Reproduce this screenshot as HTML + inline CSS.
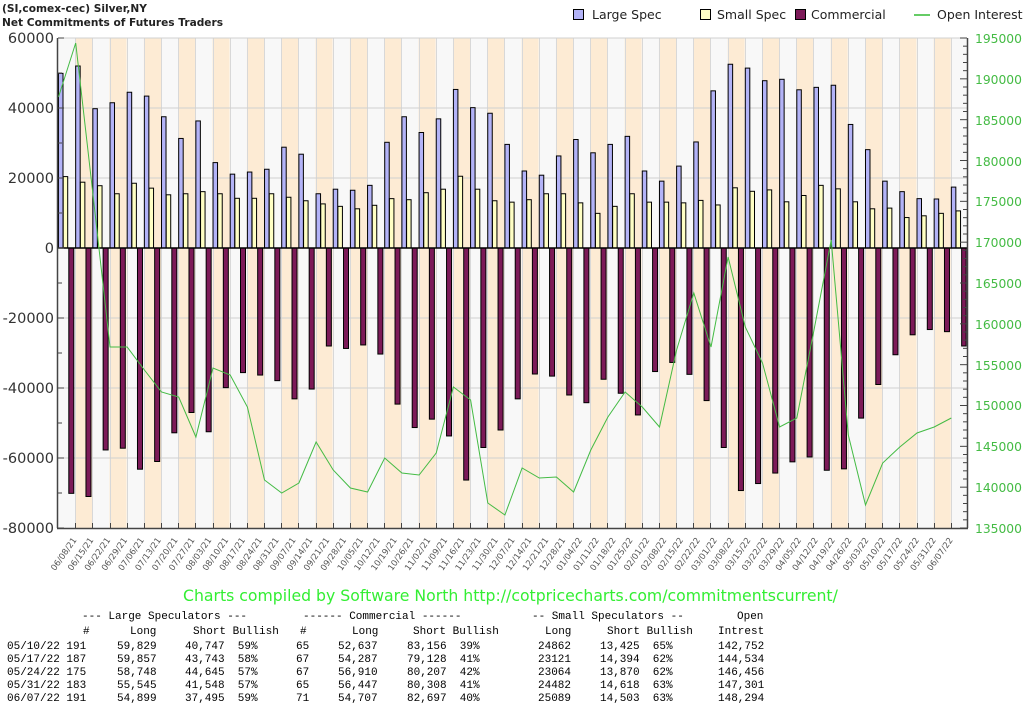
<!DOCTYPE html>
<html><head><meta charset="utf-8"><style>
body{margin:0;background:#fff;width:1024px;height:714px;overflow:hidden;position:relative;font-family:"DejaVu Sans","Liberation Sans",sans-serif}
svg{position:absolute;left:0;top:0}
.t{position:absolute;font-family:"Liberation Mono","DejaVu Sans Mono",monospace;font-size:11px;white-space:pre;color:#000;line-height:13px}
</style></head><body>
<svg width="1024" height="714" xmlns="http://www.w3.org/2000/svg">
<g id="plot"></g>
<text x="2" y="12" font-family="DejaVu Sans, sans-serif" font-weight="bold" font-size="10.6" fill="#222">(SI,comex-cec) Silver,NY</text>
<text x="2" y="26" font-family="DejaVu Sans, sans-serif" font-weight="bold" font-size="10.6" fill="#222">Net Commitments of Futures Traders</text>
<g font-family="DejaVu Sans, sans-serif" font-size="12.5" fill="#222">
<rect x="573.5" y="9.5" width="10" height="10" fill="#b3b3f7" stroke="#000"/><text x="592" y="19">Large Spec</text>
<rect x="700.5" y="9.5" width="10" height="10" fill="#ffffc4" stroke="#000"/><text x="717" y="19">Small Spec</text>
<rect x="795.5" y="9.5" width="10" height="10" fill="#7c1a58" stroke="#000"/><text x="811" y="19">Commercial</text>
<line x1="914" y1="15" x2="930" y2="15" stroke="#33bb33" stroke-width="1.5"/><text x="937" y="19">Open Interest</text>
</g>
<g font-family="DejaVu Sans, sans-serif" font-size="14.5" fill="#333" text-anchor="end">
<text x="54" y="43">60000</text><text x="54" y="113">40000</text><text x="54" y="183">20000</text><text x="54" y="253">0</text>
<text x="54" y="323">-20000</text><text x="54" y="393">-40000</text><text x="54" y="463">-60000</text><text x="54" y="533">-80000</text>
</g>
<g font-family="DejaVu Sans, sans-serif" font-size="12.3" fill="#44bb44">
<text x="975" y="43">195000</text><text x="975" y="84">190000</text><text x="975" y="125">185000</text><text x="975" y="166">180000</text>
<text x="975" y="206">175000</text><text x="975" y="247">170000</text><text x="975" y="288">165000</text><text x="975" y="329">160000</text>
<text x="975" y="370">155000</text><text x="975" y="410">150000</text><text x="975" y="451">145000</text><text x="975" y="492">140000</text><text x="975" y="533">135000</text>
</g>
<g font-family="DejaVu Sans, sans-serif" font-size="8.5" fill="#555" text-anchor="end">
<text transform="translate(77.0,540) rotate(-55)">06/08/21</text>
<text transform="translate(93.9,540) rotate(-55)">06/15/21</text>
<text transform="translate(110.7,540) rotate(-55)">06/22/21</text>
<text transform="translate(127.6,540) rotate(-55)">06/29/21</text>
<text transform="translate(144.4,540) rotate(-55)">07/06/21</text>
<text transform="translate(161.3,540) rotate(-55)">07/13/21</text>
<text transform="translate(178.1,540) rotate(-55)">07/20/21</text>
<text transform="translate(195.0,540) rotate(-55)">07/27/21</text>
<text transform="translate(211.8,540) rotate(-55)">08/03/21</text>
<text transform="translate(228.7,540) rotate(-55)">08/10/21</text>
<text transform="translate(245.5,540) rotate(-55)">08/17/21</text>
<text transform="translate(262.4,540) rotate(-55)">08/24/21</text>
<text transform="translate(279.2,540) rotate(-55)">08/31/21</text>
<text transform="translate(296.1,540) rotate(-55)">09/07/21</text>
<text transform="translate(312.9,540) rotate(-55)">09/14/21</text>
<text transform="translate(329.8,540) rotate(-55)">09/21/21</text>
<text transform="translate(346.6,540) rotate(-55)">09/28/21</text>
<text transform="translate(363.5,540) rotate(-55)">10/05/21</text>
<text transform="translate(380.3,540) rotate(-55)">10/12/21</text>
<text transform="translate(397.2,540) rotate(-55)">10/19/21</text>
<text transform="translate(414.0,540) rotate(-55)">10/26/21</text>
<text transform="translate(430.9,540) rotate(-55)">11/02/21</text>
<text transform="translate(447.7,540) rotate(-55)">11/09/21</text>
<text transform="translate(464.6,540) rotate(-55)">11/16/21</text>
<text transform="translate(481.4,540) rotate(-55)">11/23/21</text>
<text transform="translate(498.3,540) rotate(-55)">11/30/21</text>
<text transform="translate(515.1,540) rotate(-55)">12/07/21</text>
<text transform="translate(532.0,540) rotate(-55)">12/14/21</text>
<text transform="translate(548.8,540) rotate(-55)">12/21/21</text>
<text transform="translate(565.7,540) rotate(-55)">12/28/21</text>
<text transform="translate(582.5,540) rotate(-55)">01/04/22</text>
<text transform="translate(599.4,540) rotate(-55)">01/11/22</text>
<text transform="translate(616.2,540) rotate(-55)">01/18/22</text>
<text transform="translate(633.1,540) rotate(-55)">01/25/22</text>
<text transform="translate(649.9,540) rotate(-55)">02/01/22</text>
<text transform="translate(666.8,540) rotate(-55)">02/08/22</text>
<text transform="translate(683.6,540) rotate(-55)">02/15/22</text>
<text transform="translate(700.5,540) rotate(-55)">02/22/22</text>
<text transform="translate(717.3,540) rotate(-55)">03/01/22</text>
<text transform="translate(734.2,540) rotate(-55)">03/08/22</text>
<text transform="translate(751.0,540) rotate(-55)">03/15/22</text>
<text transform="translate(767.9,540) rotate(-55)">03/22/22</text>
<text transform="translate(784.7,540) rotate(-55)">03/29/22</text>
<text transform="translate(801.6,540) rotate(-55)">04/05/22</text>
<text transform="translate(818.4,540) rotate(-55)">04/12/22</text>
<text transform="translate(835.3,540) rotate(-55)">04/19/22</text>
<text transform="translate(852.1,540) rotate(-55)">04/26/22</text>
<text transform="translate(869.0,540) rotate(-55)">05/03/22</text>
<text transform="translate(885.8,540) rotate(-55)">05/10/22</text>
<text transform="translate(902.7,540) rotate(-55)">05/17/22</text>
<text transform="translate(919.5,540) rotate(-55)">05/24/22</text>
<text transform="translate(936.4,540) rotate(-55)">05/31/22</text>
<text transform="translate(953.2,540) rotate(-55)">06/07/22</text>
</g>
<text x="183" y="601" font-family="DejaVu Sans, sans-serif" font-size="15.7" fill="#33ee33">Charts compiled by Software North  http://cotpricecharts.com/commitmentscurrent/</text>
</svg>

<div class="t" style="left:82px;top:611px">--- Large Speculators ---</div>
<div class="t" style="left:303px;top:611px">------ Commercial ------</div>
<div class="t" style="left:532px;top:611px">-- Small Speculators --</div>
<div class="t" style="left:737px;top:611px">Open</div>

<div class="t" style="left:83px;top:626px">#</div>
<div class="t" style="left:130px;top:626px">Long</div>
<div class="t" style="left:193px;top:626px">Short Bullish</div>
<div class="t" style="left:300px;top:626px">#</div>
<div class="t" style="left:352px;top:626px">Long</div>
<div class="t" style="left:413px;top:626px">Short Bullish</div>
<div class="t" style="left:545px;top:626px">Long</div>
<div class="t" style="left:607px;top:626px">Short Bullish</div>
<div class="t" style="left:718px;top:626px">Intrest</div>

<div class="t" style="left:7px;top:641px">05/10/22 191
05/17/22 187
05/24/22 175
05/31/22 183
06/07/22 191</div>
<div class="t" style="left:117px;top:641px">59,829
59,857
58,748
55,545
54,899</div>
<div class="t" style="left:185px;top:641px">40,747  59%
43,743  58%
44,645  57%
41,548  57%
37,495  59%</div>
<div class="t" style="left:296px;top:641px">65
67
67
65
71</div>
<div class="t" style="left:338px;top:641px">52,637
54,287
56,910
56,447
54,707</div>
<div class="t" style="left:407px;top:641px">83,156  39%
79,128  41%
80,207  42%
80,308  41%
82,697  40%</div>
<div class="t" style="left:538px;top:641px">24862
23121
23064
24482
25089</div>
<div class="t" style="left:600px;top:641px">13,425  65%
14,394  62%
13,870  62%
14,618  63%
14,503  63%</div>
<div class="t" style="left:718px;top:641px">142,752
144,534
146,456
147,301
148,294</div>

<script>
(function(){
var L=[49.9,52,39.8,41.5,44.5,43.4,37.5,31.3,36.3,24.4,21.1,21.7,22.5,28.8,26.8,15.5,16.8,16.5,17.9,30.2,37.5,33,36.9,45.3,40.1,38.5,29.6,22,20.8,26.3,31,27.2,29.6,31.9,22,19.1,23.4,30.3,44.9,52.5,51.4,47.8,48.2,45.2,45.9,46.5,35.3,28.1,19.1,16.1,14.1,14.0,17.4];
var S=[20.4,18.8,17.8,15.5,18.5,17.1,15.2,15.5,16.1,15.5,14.2,14.2,15.5,14.5,13.5,12.6,11.9,11.2,12.2,14.1,13.8,15.8,16.8,20.5,16.8,13.5,13.1,13.8,15.5,15.5,12.9,9.9,11.9,15.5,13.1,13.1,12.9,13.6,12.3,17.2,16.2,16.6,13.2,15,17.9,16.9,13.2,11.2,11.4,8.7,9.2,9.9,10.6];
var C=[-70.1,-71,-57.7,-57.2,-63.2,-61,-52.8,-47,-52.5,-39.9,-35.6,-36.3,-37.9,-43.1,-40.3,-28,-28.7,-27.7,-30.3,-44.6,-51.3,-48.9,-53.7,-66.3,-57,-52,-43.1,-36,-36.6,-42,-44.2,-37.5,-41.5,-47.7,-35.3,-32.7,-36.1,-43.6,-57,-69.3,-67.3,-64.3,-61.1,-59.7,-63.5,-63.1,-48.6,-39,-30.5,-24.8,-23.3,-23.9,-28];
var OY=[97,43,193,347,347,370,392,397,437,368,375,407,480,493,483,442,470,488,492,458,473,475,453,387,400,503,515,468,478,477,492,450,417,392,407,427,350,293,347,257,327,363,427,418,330,240,435,505,463,447,433,427,418];
var x0=58,w=17.17,top=38,bot=528,n=53,z=248,k=3.5;
var s='';
for(var i=0;i<n;i++){var x=x0+w*i;s+='<rect x="'+x+'" y="'+top+'" width="'+w+'" height="'+(bot-top)+'" fill="'+(i%2?'#fdebd4':'#f8f8f8')+'"/>';}
for(var i=1;i<n;i++){var x=Math.round(x0+w*i)+0.5;s+='<line x1="'+x+'" y1="'+top+'" x2="'+x+'" y2="'+bot+'" stroke="#d8d8d8"/>';}
for(var v=-60;v<=60;v+=20){var y=z-v*k;s+='<line x1="58" y1="'+y+'" x2="967" y2="'+y+'" stroke="#d0d0d0"/>';}
function r(x,a,b,f){var y1=Math.min(a,b),h=Math.abs(a-b);s+='<rect x="'+x+'" y="'+y1+'" width="4.5" height="'+h+'" fill="'+f+'" stroke="#000" stroke-width="1"/>';}
for(var i=0;i<n;i++){var x=x0+w*i;
r(x+0.5,z,z-L[i]*k,'#b3b3f7');r(x+5.2,z,z-S[i]*k,'#ffffc4');
var cw=(i==n-1)?4.5:5;s+='<rect x="'+(x+10.8)+'" y="'+z+'" width="'+cw+'" height="'+(-C[i]*k)+'" fill="#7c1a58" stroke="#000" stroke-width="1"/>';}
s+='<line x1="58" y1="248" x2="967" y2="248" stroke="#000" stroke-width="1.5"/>';
var p='';for(var i=0;i<n;i++){p+=(x0+w*i+0.5).toFixed(1)+','+OY[i]+' ';}
s+='<polyline points="'+p+'" fill="none" stroke="#44bb44" stroke-width="1"/>';
s+='<line x1="57.5" y1="'+top+'" x2="57.5" y2="'+bot+'" stroke="#444" stroke-width="1.5"/>';
s+='<line x1="57" y1="'+(bot+0.5)+'" x2="968" y2="'+(bot+0.5)+'" stroke="#444" stroke-width="1.5"/>';
s+='<line x1="967.5" y1="'+top+'" x2="967.5" y2="'+bot+'" stroke="#444" stroke-width="1.5"/>';
for(var v=-80;v<=60;v+=10){var y=z-v*k;s+='<line x1="58" y1="'+y+'" x2="'+(v%20==0?64:62)+'" y2="'+y+'" stroke="#444"/>';}
for(var v=135;v<=195;v++){var y=top+(195-v)*8.1667;s+='<line x1="'+(v%5==0?960:963)+'" y1="'+y+'" x2="967" y2="'+y+'" stroke="#444"/>';}
for(var i=1;i<n;i++){var x=Math.round(x0+w*i)+0.5;s+='<line x1="'+x+'" y1="'+bot+'" x2="'+x+'" y2="'+(bot-5)+'" stroke="#444"/>';}
document.getElementById('plot').innerHTML=s;
})();
</script>
</body></html>
